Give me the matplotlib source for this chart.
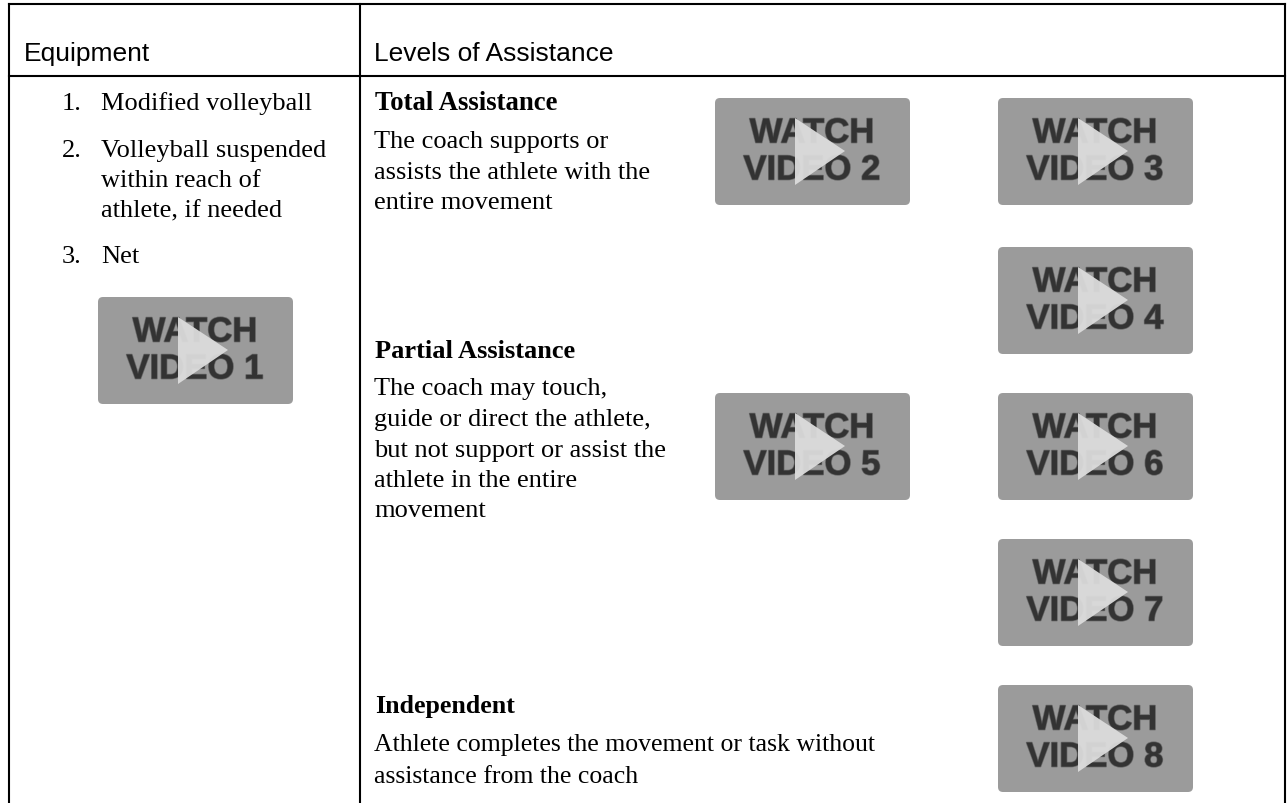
import matplotlib
matplotlib.use("Agg")
import matplotlib.pyplot as plt
import matplotlib.patheffects as pe
from matplotlib.patches import FancyBboxPatch, Polygon

WIDTH = 1287
HEIGHT = 804

headers = ["Equipment", "Levels of Assistance"]
equip_numbers = ["1.", "2.", "3."]
equip_lines = ["Modified volleyball", "Volleyball suspended", "within reach of", "athlete, if needed", "Net"]
level_titles = ["Total Assistance", "Partial Assistance", "Independent"]
level_lines = [
    "The coach supports or", "assists the athlete with the", "entire movement",
    "The coach may touch,", "guide or direct the athlete,", "but not support or assist the",
    "athlete in the entire", "movement",
    "Athlete completes the movement or task without", "assistance from the coach",
]
video_labels = ["1", "2", "3", "4", "5", "6", "7", "8"]
video_left = [98, 715, 998, 998, 715, 998, 998, 998]
video_top = [298, 99, 99, 248, 394, 394, 540, 686]

fig = plt.figure(figsize=(WIDTH / 100, HEIGHT / 100), dpi=100)
ax = fig.add_axes([0, 0, 1, 1])
ax.set_xlim(0, WIDTH)
ax.set_ylim(HEIGHT, 0)
ax.axis("off")

serif = "Liberation Serif"
sans = "Liberation Sans"
body_size = 19

# table rules
ax.plot([9, 1285], [5, 5], color="black", lw=1.5)
ax.plot([9, 1285], [76.5, 76.5], color="black", lw=1.5)
ax.plot([9, 9], [5, 804], color="black", lw=1.5)
ax.plot([359.5, 359.5], [5, 804], color="black", lw=1.5)
ax.plot([1285, 1285], [5, 804], color="black", lw=1.5)

ax.text(24, 61, headers[0], family=sans, fontsize=19, va="baseline")
ax.text(374, 61, headers[1], family=sans, fontsize=19, va="baseline")

# equipment list
for num, y in zip(equip_numbers, [110, 157, 263]):
    ax.text(62, y, num, family=serif, fontsize=body_size, va="baseline")
for line, y in zip(equip_lines, [110, 157, 187, 217, 263]):
    ax.text(101, y, line, family=serif, fontsize=body_size, va="baseline")

# assistance levels, the last block is set a little tighter in the reference
for title, y, size in zip(level_titles, [110, 358, 713], [19.3, 19, 18.6]):
    ax.text(375, y, title, family=serif, fontsize=size, weight="bold", va="baseline")
level_y = [148, 179, 209, 395, 426, 457, 487, 517, 751, 783]
level_sizes = [19, 19, 19, 19, 19, 19, 19, 19, 18.5, 18.5]
for line, y, size in zip(level_lines, level_y, level_sizes):
    ax.text(374, y, line, family=serif, fontsize=size, va="baseline")


def draw_video(label, left, top):
    w, h = 195, 107
    ax.add_patch(FancyBboxPatch((left + 5, top + 5), w - 10, h - 10, boxstyle="round,pad=5",
                                fc="#9b9b9b", ec="none"))
    soft = [pe.withStroke(linewidth=1.2, foreground="#333333", alpha=0.5)]
    ax.text(left + 97, top + 35, "WATCH", family=sans, weight="bold", fontsize=25,
            color="#333333", ha="center", va="center", path_effects=soft)
    ax.text(left + 97, top + 72, "VIDEO " + label, family=sans, weight="bold", fontsize=25,
            color="#333333", ha="center", va="center", path_effects=soft)
    # the play triangle sits over the label
    ax.add_patch(Polygon([(left + 80, top + 20), (left + 80, top + 87), (left + 130, top + 53)],
                         fc="#dcdcdc", ec="none", alpha=0.95, zorder=5))


for label, left, top in zip(video_labels, video_left, video_top):
    draw_video(label, left, top)

fig.savefig("out.png", dpi=100)
